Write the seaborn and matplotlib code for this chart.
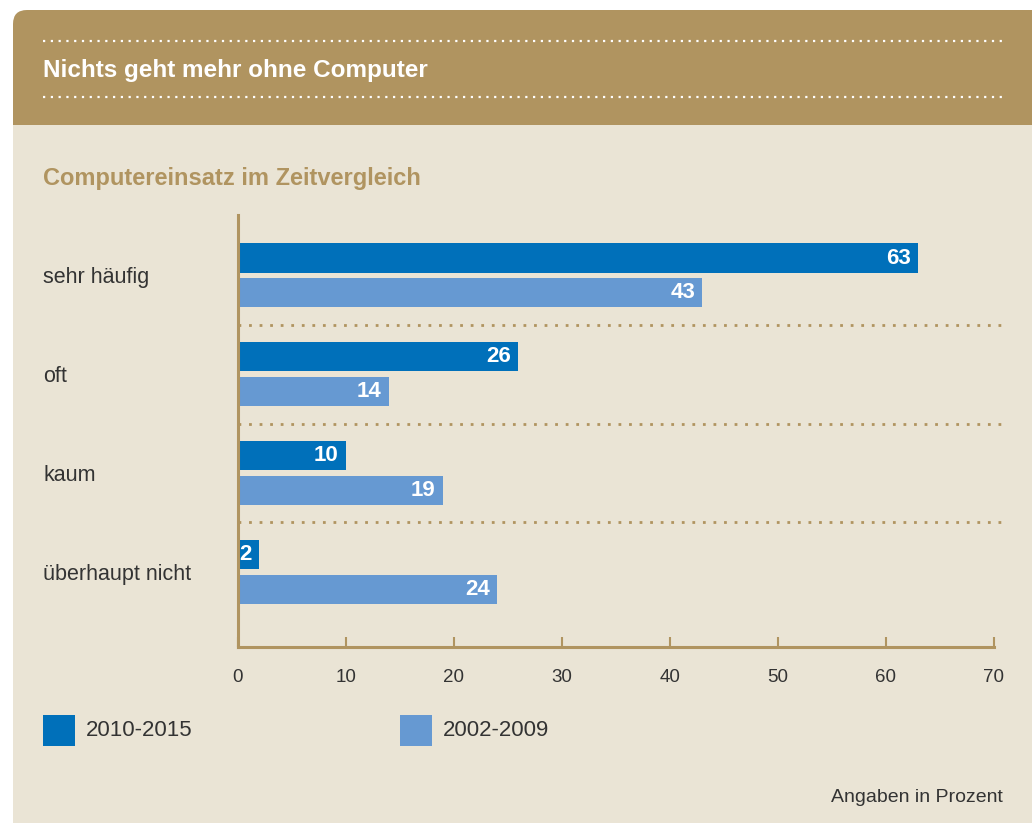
import numpy as np
import pandas as pd
import matplotlib
matplotlib.use("Agg")
import matplotlib.pyplot as plt
import seaborn as sns
from matplotlib.patches import FancyBboxPatch, Rectangle
from matplotlib.transforms import IdentityTransform

# Data
categories = ["sehr häufig", "oft", "kaum", "überhaupt nicht"]
periods = ["2010-2015", "2002-2009"]
values_recent = [63, 26, 10, 2]
values_old = [43, 14, 19, 24]
x_ticks = [0, 10, 20, 30, 40, 50, 60, 70]

title = "Nichts geht mehr ohne Computer"
subtitle = "Computereinsatz im Zeitvergleich"
note = "Angaben in Prozent"

brown = "#B09460"
beige = "#EAE4D5"
colors = ["#0070BA", "#6699D2"]
text_dark = "#333333"

df = pd.DataFrame({
    "Kategorie": categories * 2,
    "Zeitraum": [periods[0]] * 4 + [periods[1]] * 4,
    "Wert": values_recent + values_old,
})

sns.set_theme(style="white")
plt.rcParams["font.family"] = ["Liberation Sans", "DejaVu Sans"]

W, H = 1032, 823
fig = plt.figure(figsize=(W / 100, H / 100), dpi=100, facecolor="white")
px = IdentityTransform()

# Card background (pixel coordinates, origin bottom-left)
fig.patches.append(Rectangle((13, 0), W, H - 125, transform=px,
                             facecolor=beige, edgecolor="none", zorder=-3))
fig.patches.append(FancyBboxPatch((13, H - 145), W + 20, 135, transform=px,
                                  boxstyle="round,pad=0,rounding_size=14",
                                  facecolor=brown, edgecolor="none", zorder=-3))
fig.patches.append(Rectangle((13, H - 145), W, 20, transform=px,
                             facecolor=beige, edgecolor="none", zorder=-2))

# header dotted lines
for yy in [H - 41, H - 97]:
    fig.add_artist(plt.Line2D([43, 1003], [yy, yy], transform=px, color="white",
                              lw=1.6, linestyle=(0, (1, 2.5)), zorder=2))

fig.text(43 / W, 1 - 71 / H, title, color="white", fontsize=17.5, fontweight="bold",
         va="center", ha="left")
fig.text(43 / W, 1 - 178 / H, subtitle, color=brown, fontsize=17, fontweight="bold",
         va="center", ha="left")

ax = fig.add_axes([237.5 / W, 1 - 647 / H, (994 - 237.5) / W, (647 - 215) / H])
ax.set_facecolor("none")
ax.set_zorder(1)

sns.barplot(data=df, y="Kategorie", x="Wert", hue="Zeitraum", order=categories,
            hue_order=periods, palette=colors, orient="h", width=0.70, gap=0.16,
            saturation=1, legend=False, linewidth=0, ax=ax)

ax.set_xlim(0, 70)
ax.set_ylim(3.76, -0.61)
ax.set_xlabel("")
ax.set_ylabel("")

# value labels inside bars
for cont, vals in zip(ax.containers, [values_recent, values_old]):
    for patch, v in zip(cont.patches, vals):
        ax.annotate(str(v), (patch.get_x() + patch.get_width(), patch.get_y() + patch.get_height() / 2),
                    xytext=(-7, 0), textcoords="offset pixels", ha="right", va="center",
                    color="white", fontsize=16, fontweight="bold")

# dotted separators between groups
for yy in [0.5, 1.5, 2.5]:
    ax.axhline(yy, xmin=0, xmax=(1003 - 237.5) / (994 - 237.5), color=brown, lw=2.0,
               linestyle=(0, (1, 2.8)), clip_on=False)

for side in ["top", "right"]:
    ax.spines[side].set_visible(False)
for side in ["left", "bottom"]:
    ax.spines[side].set_color(brown)
    ax.spines[side].set_linewidth(2.2)

ax.set_xticks(x_ticks)
ax.set_xticklabels([str(t) for t in x_ticks])
ax.tick_params(axis="x", direction="in", length=7.5, width=1.5, color=brown,
               labelsize=13.5, labelcolor=text_dark, pad=16, bottom=True)
ax.set_yticks(range(len(categories)))
ax.set_yticklabels(categories)
ax.tick_params(axis="y", length=0, labelsize=15.5, labelcolor=text_dark, pad=(237.5 - 43) * 0.72)
for lbl in ax.get_yticklabels():
    lbl.set_ha("left")

# legend
for (lx, tx), per, c in zip([(43, 86), (400, 443)], periods, colors):
    fig.patches.append(Rectangle((lx, H - 746), 32, 31, transform=px,
                                 facecolor=c, edgecolor="none", zorder=2))
    fig.text(tx / W, 1 - 731 / H, per, fontsize=16, color=text_dark, va="center", ha="left")

fig.text(1003 / W, 1 - 797 / H, note, fontsize=14, color=text_dark, va="center", ha="right")

fig.savefig("out.png", dpi=100, facecolor="white")
